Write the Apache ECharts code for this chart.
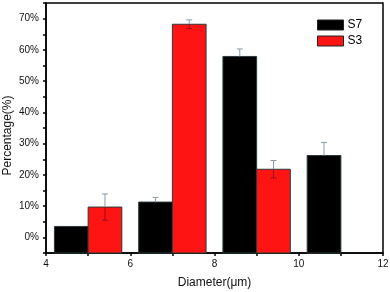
<!DOCTYPE html>
<html><head><meta charset="utf-8">
<script src="https://cdn.jsdelivr.net/npm/echarts@6/dist/echarts.min.js"></script>
<style>html,body{margin:0;padding:0;background:#fff}#c{width:390px;height:292px}</style>
</head><body><div id="c"></div>
<script>
const seriesNames = ['S7', 'S3'];
const s7Centers = [4.6, 6.6, 8.6, 10.6];
const s7Values = [3.5, 11.3, 57.9, 26.2];
const s7Errors = [0, 1.5, 2.4, 4.2];
const s3Centers = [5.4, 7.4, 9.4];
const s3Values = [9.7, 68.2, 21.8];
const s3Errors = [4.2, 1.4, 2.8];
const barWidthUnits = 0.8;
const yMin = -5, yMax = 75;

const chart = echarts.init(document.getElementById('c'), null, {renderer: 'canvas'});

function makeData(c, v, e) { return c.map((x, i) => [x, v[i], e[i]]); }

function renderBar(color, innerErrColor) {
  return function (params, api) {
    const x = api.value(0), y = api.value(1), err = api.value(2);
    const p0 = api.coord([x - barWidthUnits / 2, yMin]);
    const p1 = api.coord([x + barWidthUnits / 2, y]);
    const children = [{
      type: 'rect',
      shape: {x: p0[0], y: p1[1], width: p1[0] - p0[0], height: p0[1] - p1[1]},
      style: {fill: color, stroke: '#2a3a3a', lineWidth: 1}
    }];
    if (err > 0) {
      const top = api.coord([x, y + err]);
      const mid = api.coord([x, y]);
      const bot = api.coord([x, y - err]);
      const cap = 3;
      const st = {stroke: '#8a9aaa', lineWidth: 1};
      children.push({type: 'line', shape: {x1: top[0], y1: top[1], x2: mid[0], y2: mid[1]}, style: st});
      children.push({type: 'line', shape: {x1: top[0] - cap, y1: top[1], x2: top[0] + cap, y2: top[1]}, style: st});
      if (innerErrColor) {
        const st2 = {stroke: innerErrColor, lineWidth: 1};
        children.push({type: 'line', shape: {x1: mid[0], y1: mid[1], x2: bot[0], y2: bot[1]}, style: st2});
        children.push({type: 'line', shape: {x1: bot[0] - cap, y1: bot[1], x2: bot[0] + cap, y2: bot[1]}, style: st2});
      }
    }
    return {type: 'group', children: children};
  };
}

const axisFont = {fontFamily: 'Liberation Sans, Arial, sans-serif', fontSize: 10, color: '#111'};

chart.setOption({
  animation: false,
  grid: {left: 46, right: 7, top: 3, bottom: 39, show: true, borderColor: '#000', borderWidth: 1.5,
         containLabel: false, outerBoundsMode: 'none'},
  legend: {
    data: seriesNames.map((n, i) => ({name: n, icon: 'rect', itemStyle: {color: i === 0 ? '#000' : '#ff1414', borderColor: '#222', borderWidth: 1}})),
    orient: 'vertical', left: 317, top: 19, padding: 0, itemWidth: 26, itemHeight: 10, itemGap: 4,
    textStyle: {fontFamily: 'Liberation Sans, Arial, sans-serif', fontSize: 12, color: '#000', padding: [0, 0, 0, -1]}
  },
  xAxis: {
    type: 'value', min: 4, max: 12, interval: 1,
    name: 'Diameter(μm)', nameLocation: 'middle', nameGap: 24, nameMoveOverlap: false,
    nameTextStyle: {fontFamily: 'Liberation Sans, Arial, sans-serif', fontSize: 12, color: '#111'},
    axisLine: {onZero: false, lineStyle: {color: '#000', width: 1.5}},
    axisTick: {show: true, inside: false, length: 3, lineStyle: {color: '#000', width: 1.5}},
    axisLabel: Object.assign({margin: 6, formatter: v => (v % 2 === 0 ? String(v) : '')}, axisFont),
    splitLine: {show: false}
  },
  yAxis: {
    type: 'value', min: yMin, max: yMax, interval: 5,
    name: 'Percentage(%)', nameLocation: 'middle', nameGap: 32, nameMoveOverlap: false,
    nameTextStyle: {fontFamily: 'Liberation Sans, Arial, sans-serif', fontSize: 12, color: '#111', padding: [0, 15, 0, 0]},
    axisLine: {onZero: false, lineStyle: {color: '#000', width: 1.5}},
    axisTick: {show: true, inside: false, length: 3, lineStyle: {color: '#000', width: 1.5}},
    axisLabel: Object.assign({margin: 7, formatter: v => (v >= 0 && v % 10 === 0 ? v + '%' : '')}, axisFont),
    splitLine: {show: false}
  },
  series: [
    {name: 'S7', type: 'custom', renderItem: renderBar('#000000', null), data: makeData(s7Centers, s7Values, s7Errors),
     itemStyle: {color: '#000'}, encode: {x: 0, y: 1}},
    {name: 'S3', type: 'custom', renderItem: renderBar('#ff1414', '#9a1018'), data: makeData(s3Centers, s3Values, s3Errors),
     itemStyle: {color: '#ff1414'}, encode: {x: 0, y: 1}}
  ]
});
</script></body></html>
